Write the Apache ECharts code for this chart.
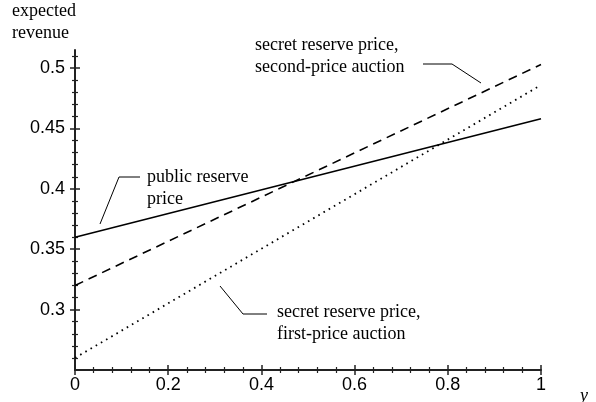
<!DOCTYPE html>
<html>
<head>
<meta charset="utf-8">
<script src="https://cdn.jsdelivr.net/npm/echarts@6/dist/echarts.min.js"></script>
<style>
html,body{margin:0;padding:0;background:#fff;}
#chart{width:596px;height:402px;}
</style>
</head>
<body>
<div id="chart"></div>
<script>
// ---- data ----
var xValues = [0, 1];
var publicReserve = [0.36, 0.458];
var secretSecondPrice = [0.32, 0.503];
var secretFirstPrice = [0.26, 0.486];
var xTickLabels = [0, 0.2, 0.4, 0.6, 0.8, 1];
var yTickLabels = [0.3, 0.35, 0.4, 0.45, 0.5];
var xMinorTicks = [];
for (var i = 1; i < 25; i++) { if (i % 5 !== 0) xMinorTicks.push(+(i * 0.04).toFixed(2)); }
var yMinorTicks = [];
for (var j = 26; j <= 51; j++) { if (j % 5 !== 0) yMinorTicks.push(+(j / 100).toFixed(2)); }

function pairs(xs, ys) { return xs.map(function (x, k) { return [x, ys[k]]; }); }

var chart = echarts.init(document.getElementById('chart'), null, {renderer: 'canvas'});
var sans = 'Liberation Sans, Arial, sans-serif';
var serif = 'Liberation Serif, Times New Roman, serif';
var axisCol = '#222';

function xAx(opts) {
  return Object.assign({
    type: 'value', min: 0, max: 1, position: 'bottom',
    axisLine: {show: false}, axisLabel: {show: false},
    splitLine: {show: false}, axisTick: {show: false}
  }, opts);
}
function yAx(opts) {
  return Object.assign({
    type: 'value', min: 0.25, max: 0.515, position: 'left',
    axisLine: {show: false}, axisLabel: {show: false},
    splitLine: {show: false}, axisTick: {show: false}
  }, opts);
}

var option = {
  animation: false,
  backgroundColor: '#fff',
  grid: {left: 75, right: 55, top: 50, bottom: 32, containLabel: false},
  xAxis: [
    xAx({
      axisLine: {show: true, onZero: false, lineStyle: {color: axisCol, width: 2}},
      axisLabel: {show: true, customValues: xTickLabels, color: '#000', fontFamily: sans, fontSize: 18, margin: 6,
        formatter: function (v) { return String(+v.toFixed(2)); }},
      axisTick: {show: true, customValues: xTickLabels, length: 5, inside: false, lineStyle: {color: axisCol, width: 1.5}}
    }),
    xAx({axisTick: {show: true, customValues: xTickLabels, length: 5, inside: true, lineStyle: {color: axisCol, width: 1.5}}}),
    xAx({axisTick: {show: true, customValues: xMinorTicks, length: 3, inside: false, lineStyle: {color: axisCol, width: 1.2}}}),
    xAx({axisTick: {show: true, customValues: xMinorTicks, length: 3, inside: true, lineStyle: {color: axisCol, width: 1.2}}})
  ],
  yAxis: [
    yAx({
      axisLine: {show: true, onZero: false, lineStyle: {color: axisCol, width: 2}},
      axisLabel: {show: true, customValues: yTickLabels, color: '#000', fontFamily: sans, fontSize: 18, margin: 10,
        formatter: function (v) { return String(+v.toFixed(2)); }},
      axisTick: {show: true, customValues: yTickLabels, length: 5, inside: false, lineStyle: {color: axisCol, width: 1.5}}
    }),
    yAx({axisTick: {show: true, customValues: yTickLabels, length: 5, inside: true, lineStyle: {color: axisCol, width: 1.5}}}),
    yAx({axisTick: {show: true, customValues: yMinorTicks, length: 3, inside: false, lineStyle: {color: axisCol, width: 1.2}}}),
    yAx({axisTick: {show: true, customValues: yMinorTicks, length: 3, inside: true, lineStyle: {color: axisCol, width: 1.2}}})
  ],
  series: [
    {name: 'public reserve price', type: 'line', xAxisIndex: 0, yAxisIndex: 0, data: pairs(xValues, publicReserve),
      showSymbol: false, lineStyle: {color: '#000', width: 1.6, type: 'solid'}},
    {name: 'secret reserve price, second-price auction', type: 'line', xAxisIndex: 0, yAxisIndex: 0, data: pairs(xValues, secretSecondPrice),
      showSymbol: false, lineStyle: {color: '#000', width: 1.6, type: [9, 6]}},
    {name: 'secret reserve price, first-price auction', type: 'line', xAxisIndex: 0, yAxisIndex: 0, data: pairs(xValues, secretFirstPrice),
      showSymbol: false, lineStyle: {color: '#000', width: 1.8, type: [1.6, 4.4]}}
  ],
  graphic: [
    {type: 'text', left: 12, top: 0, style: {text: 'expected\nrevenue', font: '18px ' + serif, fill: '#000', lineHeight: 22}},
    {type: 'polyline', shape: {points: [[100, 224], [119, 177], [140, 177]]}, style: {stroke: '#000', lineWidth: 1, fill: null}},
    {type: 'text', left: 147, top: 166, style: {text: 'public reserve\nprice', font: '18px ' + serif, fill: '#000', lineHeight: 22}},
    {type: 'polyline', shape: {points: [[423, 64], [452, 64], [481, 83]]}, style: {stroke: '#000', lineWidth: 1, fill: null}},
    {type: 'text', left: 255, top: 34, style: {text: 'secret reserve price,\nsecond-price auction', font: '18px ' + serif, fill: '#000', lineHeight: 22}},
    {type: 'polyline', shape: {points: [[220, 286], [243, 314], [267, 314]]}, style: {stroke: '#000', lineWidth: 1, fill: null}},
    {type: 'text', left: 277, top: 301, style: {text: 'secret reserve price,\nfirst-price auction', font: '18px ' + serif, fill: '#000', lineHeight: 22}},
    {type: 'text', left: 580, top: 387, style: {text: 'y', font: 'italic 18px ' + serif, fill: '#000'}}
  ]
};
chart.setOption(option);
</script>
</body>
</html>
